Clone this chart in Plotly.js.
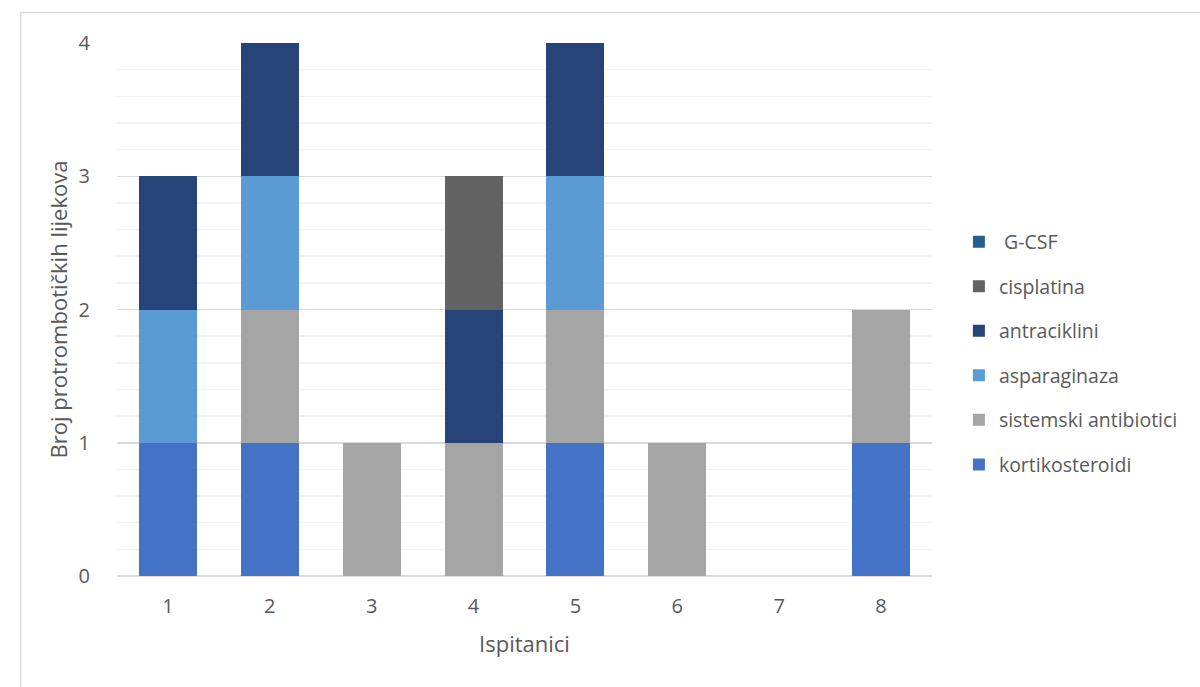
<!DOCTYPE html>
<html><head><meta charset="utf-8">
<script src="https://cdn.plot.ly/plotly-3.0.1.min.js"></script>
<style>html,body{margin:0;padding:0;background:#fff}#c{width:1200px;height:687px}</style>
</head><body><div id="c"></div>
<script>
const categories = ['1','2','3','4','5','6','7','8'];
const kortikosteroidi = [1,1,0,0,1,0,0,1];
const sistemskiAntibiotici = [0,1,1,1,1,1,0,1];
const asparaginaza = [1,1,0,0,1,0,0,0];
const antraciklini = [1,1,0,1,1,0,0,0];
const cisplatina = [0,0,0,1,0,0,0,0];
const gcsf = [0,0,0,0,0,0,0,0];
const seriesNames = ['kortikosteroidi','sistemski antibiotici','asparaginaza','antraciklini','cisplatina',' G-CSF'];
const seriesColors = ['#4472C4','#A5A5A5','#5B9BD5','#264478','#636363','#255E91'];
const seriesValues = [kortikosteroidi, sistemskiAntibiotici, asparaginaza, antraciklini, cisplatina, gcsf];
const yTicks = [0,1,2,3,4];

const font = {family:'"Open Sans", sans-serif', color:'#595959'};
const traces = seriesNames.map((n,i)=>({
  type:'bar', name:n, x:categories, y:seriesValues[i],
  marker:{color:seriesColors[i], line:{width:0}},
  legendgroup:'g'+i, legendrank: 100 - i, hoverinfo:'skip'
}));

const layout = {
  width:1200, height:687,
  margin:{l:117, r:268, t:43, b:111},
  barmode:'stack', bargap:0.43,
  paper_bgcolor:'#fff', plot_bgcolor:'#fff',
  font:Object.assign({size:20}, font),
  xaxis:{type:'category', showgrid:false, zeroline:false, showline:false,
    ticks:'outside', ticklen:12, tickcolor:'rgba(0,0,0,0)',
    tickfont:Object.assign({size:20}, font),
    title:{text:'Ispitanici', font:Object.assign({size:22}, font), standoff:18}},
  yaxis:{range:[0,4], tickvals:yTicks, showgrid:true, gridcolor:'#D9D9D9', gridwidth:1.5,
    zeroline:true, zerolinecolor:'#D9D9D9', zerolinewidth:1.5,
    minor:{dtick:0.2, tick0:0, showgrid:true, gridcolor:'#F2F2F2', gridwidth:1.5},
    ticks:'outside', ticklen:22, tickcolor:'rgba(0,0,0,0)',
    tickfont:Object.assign({size:20}, font),
    title:{text:'Broj protrombotičkih lijekova', font:Object.assign({size:22}, font), standoff:4}},
  legend:{x:1.033, xanchor:'left', y:0.4175, yanchor:'middle', traceorder:'grouped',
    tracegroupgap:16.2, font:Object.assign({size:19.5}, font), bgcolor:'rgba(0,0,0,0)', borderwidth:0},
  shapes:[{type:'rect', xref:'paper', yref:'paper', x0:-0.1183, x1:1.5, y0:-0.5, y1:1.057,
    line:{color:'#D9D9D9', width:1.5}, fillcolor:'rgba(0,0,0,0)', layer:'below'}]
};
Plotly.newPlot('c', traces, layout, {displayModeBar:false, staticPlot:true});
</script></body></html>
